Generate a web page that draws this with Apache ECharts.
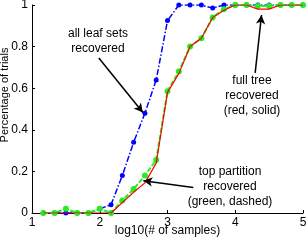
<!DOCTYPE html>
<html><head><meta charset="utf-8">
<script src="https://cdn.jsdelivr.net/npm/echarts@6/dist/echarts.min.js"></script>
<style>html,body{margin:0;padding:0;background:#fff}#c{width:307px;height:240px}</style>
</head><body><div id="c"></div>
<script>
// x positions: log10(# of samples)
var xVals = [1.1667,1.3333,1.5,1.6667,1.8333,2.0,2.1667,2.3333,2.5,2.6667,2.8333,3.0,3.1667,3.3333,3.5,3.6667,3.8333,4.0,4.1667,4.3333,4.5,4.6667,4.8333,5.0];
var leafSets = [0,0,0,0,0,0.02,0.04,0.18,0.34,0.48,0.64,0.925,1,1,1,0.985,1,1,1,1,1,1,1,1];
var topPartition = [0,0,0.02,0,0,0.02,0,0.06,0.115,0.18,0.255,0.585,0.68,0.80,0.84,0.94,0.98,1,1,0.995,0.995,1,1,1];
var fullTree = [0,0,0,0,0,0,0,0.05,0.10,0.145,0.24,0.58,0.67,0.80,0.84,0.94,0.975,1,1,0.98,0.98,1,1,1];
var xTicks = [1,2,3,4,5];
var yTicks = [0,0.2,0.4,0.6,0.8,1];

function pairs(ys){ return ys.map(function(y,i){ return [xVals[i], y]; }); }
var F = 'Liberation Sans, Arial, sans-serif';
var chart = echarts.init(document.getElementById('c'), null, {renderer:'canvas'});
chart.setOption({
  animation:false,
  grid:{left:32,right:4,top:5,bottom:27,containLabel:false,outerBoundsMode:'none'},
  xAxis:{type:'value',min:xTicks[0],max:xTicks[xTicks.length-1],interval:1,
    name:'log10(# of samples)',nameLocation:'middle',nameGap:12,nameMoveOverlap:false,
    nameTextStyle:{fontFamily:F,fontSize:12,color:'#000',verticalAlign:'top'},
    axisLine:{lineStyle:{color:'#000',width:1}},
    axisTick:{inside:true,length:3,lineStyle:{color:'#000'}},
    axisLabel:{fontFamily:F,fontSize:12,color:'#000',margin:4},
    splitLine:{show:false}},
  yAxis:{type:'value',min:yTicks[0],max:yTicks[yTicks.length-1],interval:0.2,
    name:'Percentage of trials',nameLocation:'middle',nameGap:22,nameMoveOverlap:false,
    nameTextStyle:{fontFamily:F,fontSize:11,color:'#000',padding:[0,0,0,28]},
    axisLine:{show:true,lineStyle:{color:'#000',width:1}},
    axisTick:{show:true,inside:true,length:3,lineStyle:{color:'#000'}},
    axisLabel:{fontFamily:F,fontSize:12,color:'#000',margin:4,
      formatter:function(v){return String(Math.round(v*10)/10);}},
    splitLine:{show:false}},
  series:[
    {type:'line',data:pairs(leafSets),symbol:'circle',symbolSize:5,z:2,
      itemStyle:{color:'#0000ff'},
      lineStyle:{color:'#0000ff',width:1.5,type:[6,2,1.5,2]},
      markLine:{silent:true,symbol:['none','arrow'],symbolSize:[7,9],
        lineStyle:{color:'#000',width:1.5,type:'solid'},label:{show:false},
        data:[[{coord:[1.986,0.745]},{coord:[2.637,0.483]}]]}},
    {type:'line',data:pairs(topPartition),symbol:'circle',symbolSize:6,z:3,
      itemStyle:{color:'#22ee22'},
      lineStyle:{color:'#22ee22',width:2,type:[5,2]},
      markLine:{silent:true,symbol:['none','arrow'],symbolSize:[7,9],
        lineStyle:{color:'#000',width:1.5,type:'solid'},label:{show:false},
        data:[[{coord:[3.381,0.123]},{coord:[2.644,0.155]}]]}},
    {type:'line',data:pairs(fullTree),symbol:'none',z:4,
      lineStyle:{color:'#ff0000',width:1.2,type:'solid'},
      markLine:{silent:true,symbol:['none','arrow'],symbolSize:[7,9],
        lineStyle:{color:'#000',width:1.5,type:'solid'},label:{show:false},
        data:[[{coord:[4.294,0.674]},{coord:[4.388,0.952]}]]}}
  ],
  graphic:[
    {type:'text',style:{text:'all leaf sets\nrecovered',x:98,y:26,textAlign:'center',font:'12px '+F,fill:'#000',lineHeight:15}},
    {type:'text',style:{text:'full tree\nrecovered\n(red, solid)',x:252,y:73,textAlign:'center',font:'12px '+F,fill:'#000',lineHeight:15}},
    {type:'text',style:{text:'top partition\nrecovered\n(green, dashed)',x:230,y:164,textAlign:'center',font:'12px '+F,fill:'#000',lineHeight:15}}
  ]
});
</script></body></html>
